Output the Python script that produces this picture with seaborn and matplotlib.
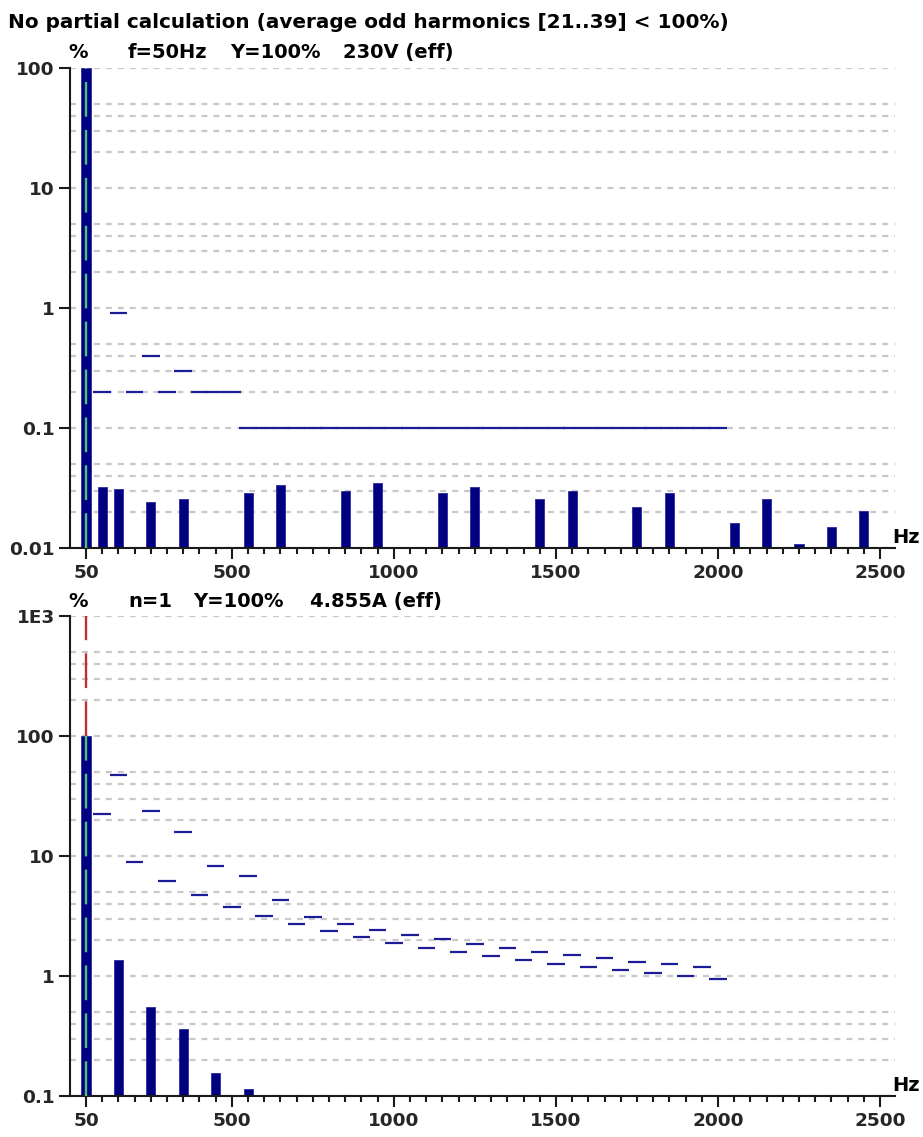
import numpy as np
import pandas as pd
import matplotlib
matplotlib.use("Agg")
import matplotlib.pyplot as plt
import seaborn as sns
from matplotlib.ticker import LogLocator, NullFormatter, MultipleLocator

# ---------------- data ----------------
title_text = "No partial calculation (average odd harmonics [21..39] < 100%)"

u_freq = [50, 100, 150, 250, 350, 550, 650, 850, 950, 1150, 1250,
          1450, 1550, 1750, 1850, 2050, 2150, 2250, 2350, 2450]
u_level = [100, 0.032, 0.031, 0.0243, 0.0255, 0.0286, 0.0333, 0.0297, 0.0346,
           0.0286, 0.032, 0.0255, 0.0297, 0.0218, 0.0286, 0.0161, 0.0255,
           0.0109, 0.0149, 0.0202]
u_limit_freq = [100, 150, 200, 250, 300, 350, 400, 450, 500, 550, 600, 650,
                700, 750, 800, 850, 900, 950, 1000, 1050, 1100, 1150, 1200,
                1250, 1300, 1350, 1400, 1450, 1500, 1550, 1600, 1650, 1700,
                1750, 1800, 1850, 1900, 1950, 2000]
u_limit = [0.2, 0.9, 0.2, 0.4, 0.2, 0.3, 0.2, 0.2, 0.2, 0.1, 0.1, 0.1,
           0.1, 0.1, 0.1, 0.1, 0.1, 0.1, 0.1, 0.1, 0.1, 0.1, 0.1,
           0.1, 0.1, 0.1, 0.1, 0.1, 0.1, 0.1, 0.1, 0.1, 0.1,
           0.1, 0.1, 0.1, 0.1, 0.1, 0.1]

i_freq = [50, 150, 250, 350, 450, 550]
i_level = [100, 1.36, 0.552, 0.36, 0.155, 0.114]
i_limit_freq = u_limit_freq
i_limit = [22.2, 47.4, 8.86, 23.5, 6.18, 15.9, 4.74, 8.24, 3.79, 6.80, 3.16,
           4.33, 2.71, 3.09, 2.37, 2.73, 2.11, 2.44, 1.90, 2.21, 1.72, 2.02,
           1.58, 1.85, 1.46, 1.72, 1.35, 1.60, 1.26, 1.50, 1.18, 1.40, 1.12,
           1.32, 1.05, 1.25, 1.00, 1.19, 0.95]

x_ticks = [50, 500, 1000, 1500, 2000, 2500]
x_tick_labels = ["50", "500", "1000", "1500", "2000", "2500"]
u_yticks = [0.01, 0.1, 1, 10, 100]
u_ytick_labels = ["0.01", "0.1", "1", "10", "100"]
i_yticks = [0.1, 1, 10, 100, 1000]
i_ytick_labels = ["0.1", "1", "10", "100", "1E3"]

u_header = ["%", "f=50Hz", "Y=100%", "230V (eff)"]
i_header = ["%", "n=1", "Y=100%", "4.855A (eff)"]

# ---------------- style ----------------
sns.set_style("white")
plt.rcParams["font.family"] = ["DejaVu Sans"]
plt.rcParams["font.weight"] = "bold"
plt.rcParams["lines.scale_dashes"] = False

W, H = 923, 1137
FS = 13.3
FS_TEXT = 14
FS_TITLE = 14.4
NAVY = "#000080"
LIM = "#1c1c98"
GRID = "#c8c8c8"
GREEN = "#4cc47a"
RED = "#b83434"

fig = plt.figure(figsize=(W / 100, H / 100), dpi=100)
fig.patch.set_facecolor("white")

px_per_hz = (880 - 86) / 2450.0
x_left = 50 - 16 / px_per_hz
x_right = 50 + (895 - 86) / px_per_hz


def make_axes(top_px, bot_px):
    return fig.add_axes([70 / W, (H - bot_px) / H, 825 / W, (bot_px - top_px) / H])


def style_axes(ax, ylim, yticks, ylabels):
    ax.set_yscale("log")
    ax.set_xlim(x_left, x_right)
    ax.set_ylim(*ylim)
    ax.set_yticks(yticks, labels=ylabels)
    ax.yaxis.set_minor_locator(LogLocator(base=10, subs=(2, 3, 4, 5)))
    ax.yaxis.set_minor_formatter(NullFormatter())
    ax.set_xticks(x_ticks, labels=x_tick_labels)
    ax.xaxis.set_minor_locator(MultipleLocator(50))
    ax.set_axisbelow(True)
    ax.grid(False)
    ax.yaxis.grid(True, which="both", color=GRID, linewidth=1.6,
                  linestyle=(0, (4.3, 4.3)))
    for s in ("top", "right"):
        ax.spines[s].set_visible(False)
    for s in ("left", "bottom"):
        ax.spines[s].set_visible(True)
        ax.spines[s].set_color("#1a1a1a")
        ax.spines[s].set_linewidth(1.5)
    ax.tick_params(axis="y", which="major", length=8, width=1.5, color="#1a1a1a",
                   direction="out", pad=3, labelsize=FS, left=True)
    ax.tick_params(axis="y", which="minor", length=0)
    ax.tick_params(axis="x", which="major", length=8, width=1.5, color="#1a1a1a",
                   direction="out", pad=3.5, labelsize=FS, bottom=True)
    ax.tick_params(axis="x", which="minor", length=4.5, width=1.5,
                   color="#1a1a1a", direction="out", bottom=True)
    for lab in ax.get_xticklabels() + ax.get_yticklabels():
        lab.set_fontweight("bold")
    ax.set_xlabel("")
    ax.set_ylabel("")
    ax.set_facecolor("white")


# ---------------- top chart (voltage) ----------------
ax1 = make_axes(68, 548)
ax1.set_yscale("log")
df_u = pd.DataFrame({"freq": u_freq, "level": u_level})
sns.barplot(data=df_u, x="freq", y="level", native_scale=True, width=0.56,
            color=NAVY, saturation=1, edgecolor="#2a2aa0", linewidth=0.6,
            errorbar=None, ax=ax1, zorder=2)
ax1.hlines(u_limit, np.array(u_limit_freq) - 27, np.array(u_limit_freq) + 27,
           colors=LIM, linewidth=1.6, zorder=3)
ax1.plot([50, 50], [0.01, 100], color=GREEN, linewidth=1.7,
         linestyle=(0, (25, 9.5)), zorder=4)
style_axes(ax1, (0.01, 100), u_yticks, u_ytick_labels)

# ---------------- bottom chart (current) ----------------
ax2 = make_axes(616, 1096)
ax2.set_yscale("log")
df_i = pd.DataFrame({"freq": i_freq, "level": i_level})
sns.barplot(data=df_i, x="freq", y="level", native_scale=True, width=0.28,
            color=NAVY, saturation=1, edgecolor="#2a2aa0", linewidth=0.6,
            errorbar=None, ax=ax2, zorder=2)
ax2.hlines(i_limit, np.array(i_limit_freq) - 27, np.array(i_limit_freq) + 27,
           colors=LIM, linewidth=1.6, zorder=3)
ax2.plot([50, 50], [0.1, 100], color=GREEN, linewidth=1.7,
         linestyle=(0, (25, 9.5)), zorder=4)
ax2.plot([50, 50], [100, 1000], color=RED, linewidth=1.7,
         linestyle=(0, (25, 9.5)), zorder=4)
style_axes(ax2, (0.1, 1000), i_yticks, i_ytick_labels)

# ---------------- texts ----------------
def ftext(x, y, s, size=FS_TEXT):
    fig.text(x / W, 1 - y / H, s, fontsize=size, fontweight="bold",
             va="baseline", ha="left", color="black")


ftext(8, 28, title_text, size=FS_TITLE)
for xpos, s in zip([68, 128, 230, 343], u_header):
    ftext(xpos, 58, s)
for xpos, s in zip([68, 128, 193, 310], i_header):
    ftext(xpos, 607, s)
ftext(892, 543, "Hz")
ftext(892, 1091, "Hz")

fig.savefig("out.png", dpi=100, facecolor="white")
